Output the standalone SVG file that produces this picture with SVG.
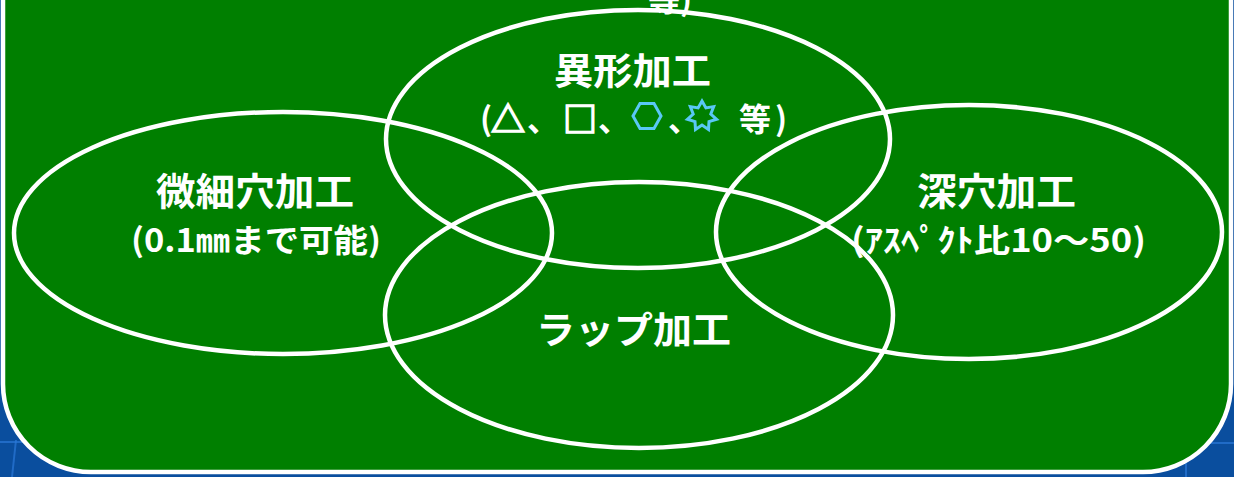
<svg xmlns="http://www.w3.org/2000/svg" width="1234" height="477" viewBox="0 0 1234 477">
<style>
.t{font-family:"Noto Sans CJK JP","Noto Sans",sans-serif;font-weight:bold;fill:#fff}
.k{stroke:#fff;stroke-width:1.6}
.e{fill:none;stroke:#fff;stroke-width:4.5}
.s{fill:none;stroke:#5ac8f5;stroke-width:3}
.g{stroke:#2a78d8;stroke-width:2;opacity:0.7}
</style>
<rect x="0" y="0" width="1234" height="477" fill="#0a4e9e"/>
<line class="g" x1="0" y1="442" x2="30" y2="442"/>
<line class="g" x1="16" y1="440" x2="12" y2="477"/>
<line class="g" x1="1180" y1="443" x2="1234" y2="443"/>
<line class="g" x1="1186" y1="443" x2="1186" y2="477"/>
<rect x="3" y="-120" width="1228" height="592" rx="88" ry="88" fill="#007f00" stroke="#fff" stroke-width="4.5"/>
<g id="connectors">
<ellipse id="e-top" class="e" cx="638" cy="139" rx="252" ry="129"/>
<ellipse id="e-left" class="e" cx="283" cy="233" rx="269" ry="121"/>
<ellipse id="e-right" class="e" cx="969" cy="232" rx="253" ry="127"/>
<ellipse id="e-bottom" class="e" cx="639" cy="315" rx="254" ry="133"/>
</g>
<g id="node-top-cut">
<text class="t" x="648" y="11" font-size="32">等)</text>
</g>
<g id="node-ikei">
<text class="t" x="632.5" y="85" font-size="37" text-anchor="middle" textLength="157" lengthAdjust="spacingAndGlyphs">異形加工</text>
<text class="t" x="480" y="131" font-size="32">(</text>
<text class="t k" x="491" y="132" font-size="34">△</text>
<text class="t" x="527" y="131" font-size="32">、</text>
<text class="t k" x="563" y="132" font-size="34">□</text>
<text class="t" x="598" y="131" font-size="32">、</text>
<polygon class="s" points="633,116 640,103.5 654,103.5 661,116 654,128.5 640,128.5"/>
<text class="t" x="668" y="131" font-size="32">、</text>
<polygon class="s" points="702,101 705.9,107.9 713.7,106.6 710.8,114 716.6,119.3 709,121.6 708.5,129.5 702,125 695.5,129.5 695,121.6 687.4,119.3 693.2,114 690.3,106.6 698.1,107.9"/>
<text class="t" x="739" y="131" font-size="32">等</text>
<text class="t" x="775" y="131" font-size="32">)</text>
</g>
<g id="node-bisai">
<text class="t" x="255" y="205" font-size="38" text-anchor="middle" textLength="198" lengthAdjust="spacingAndGlyphs">微細穴加工</text>
<text class="t" x="256" y="252" font-size="32" text-anchor="middle" textLength="250" lengthAdjust="spacingAndGlyphs">(0.1㎜まで可能)</text>
</g>
<g id="node-fukaana">
<text class="t" x="996.5" y="205" font-size="38" text-anchor="middle" textLength="159" lengthAdjust="spacingAndGlyphs">深穴加工</text>
<text class="t" x="998.5" y="252" font-size="32" text-anchor="middle" textLength="295" lengthAdjust="spacingAndGlyphs">(ｱｽﾍﾟｸﾄ比10～50)</text>
</g>
<g id="node-lap">
<text class="t" x="633.5" y="344" font-size="37" text-anchor="middle" textLength="195" lengthAdjust="spacingAndGlyphs">ラップ加工</text>
</g>
</svg>
